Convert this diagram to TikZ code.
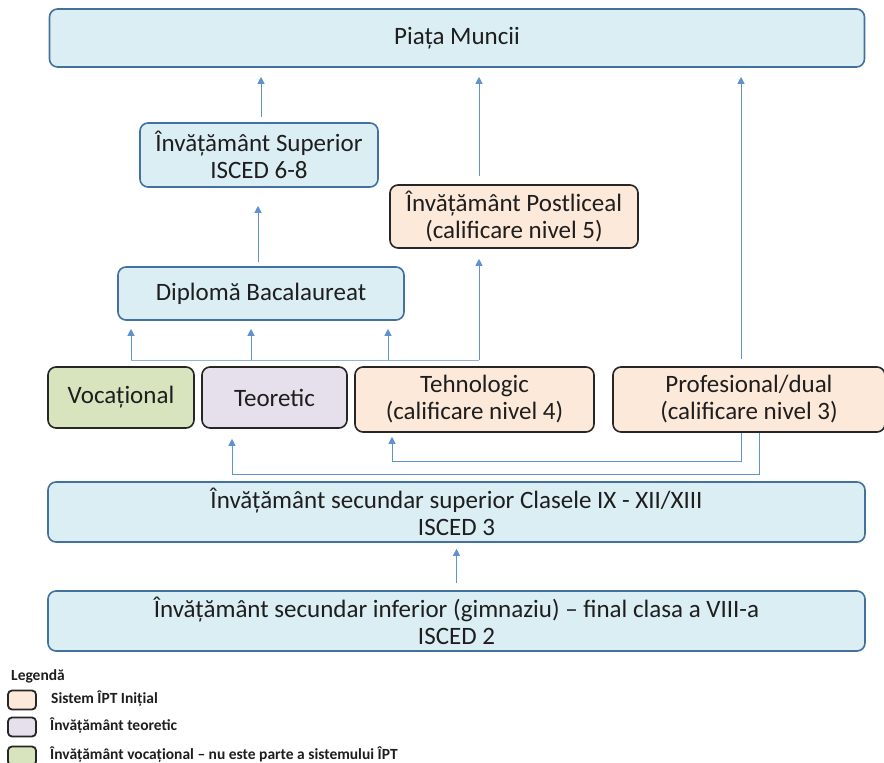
\documentclass[tikz,border=0pt]{standalone}
\usepackage{fontspec}
\setmainfont{Carlito}
\usetikzlibrary{arrows.meta}
\definecolor{boxblue}{RGB}{219,238,244}
\definecolor{lineblue}{RGB}{65,113,156}
\definecolor{boxorange}{RGB}{253,233,217}
\definecolor{boxpurple}{RGB}{229,224,236}
\definecolor{boxgreen}{RGB}{215,228,189}
\definecolor{arrowblue}{RGB}{96,146,208}
\definecolor{txt}{RGB}{30,30,30}
\begin{document}
\begin{tikzpicture}[x=1pt, y=-1pt,
	every node/.style={text=txt, font=\fontsize{25}{27}\selectfont, align=center, inner sep=0pt},
	bluebox/.style={draw=lineblue, fill=boxblue, line width=1.6pt, rounded corners=8pt},
	ipt/.style={draw=black!85, line width=1.6pt, rounded corners=8pt},
	legbox/.style={draw=black!85, line width=1.8pt, rounded corners=4pt, minimum width=28pt, minimum height=19pt},
	legtext/.style={font=\bfseries\fontsize{15.5}{17}\selectfont, anchor=west},
	arr/.style={draw=arrowblue, line width=0.9pt, -{Triangle[width=7pt,length=7pt]}},
	bus/.style={draw=arrowblue!70, line width=0.9pt}]
	\useasboundingbox (0,0) rectangle (884,763);
	% piata + nivel tertiar
	\node[bluebox, minimum width=815pt, minimum height=58pt] (PM) at (457,38) {Piața Muncii};
	\node[bluebox, minimum width=238pt, minimum height=64pt] (IS) at (259,155) {Învățământ Superior\\ISCED 6-8};
	\node[ipt, fill=boxorange, minimum width=248pt, minimum height=63pt] (PL) at (514,216.5) {Învățământ Postliceal\\(calificare nivel 5)};
	\node[bluebox, minimum width=286pt, minimum height=53pt] (DB) at (261,293.5) {Diplomă Bacalaureat};
	% filiere
	\node[ipt, fill=boxgreen, minimum width=146pt, minimum height=61pt] (VO) at (121,397.5) {Vocațional};
	\node[ipt, fill=boxpurple, minimum width=145pt, minimum height=61pt] (TE) at (274.5,397.5) {Teoretic};
	\node[ipt, fill=boxorange, minimum width=239pt, minimum height=65pt] (TH) at (474.5,399.5) {Tehnologic\\(calificare nivel 4)};
	\node[ipt, fill=boxorange, minimum width=272pt, minimum height=65pt] (PR) at (749,399.5) {Profesional/dual\\(calificare nivel 3)};
	% secundar
	\node[bluebox, minimum width=817pt, minimum height=60pt] (SS) at (456.5,512) {Învățământ secundar superior Clasele IX - XII/XIII\\ISCED 3};
	\node[bluebox, minimum width=817pt, minimum height=60pt] (SI) at (456.5,621) {Învățământ secundar inferior (gimnaziu) – final clasa a VIII-a\\ISCED 2};
	
	\coordinate (B1) at (131,360);
	\coordinate (B2) at (251,360);
	\coordinate (B3) at (388,360);
	\coordinate (B4) at (479,360);
	\coordinate (R1) at (741,461);
	\coordinate (R2) at (392,461);
	\coordinate (R3) at (759,474);
	\coordinate (R4) at (232,474);
	
	\draw[arr, shorten <=5pt, shorten >=9pt] (IS.north -| 261,0) -- (PM.south -| 261,0);
	\draw[arr, shorten <=8pt, shorten >=9pt] (PL.north -| B4) -- (PM.south -| B4);
	\draw[arr, shorten <=7pt, shorten >=9pt] (PR.north -| R1) -- (PM.south -| R1);
	\draw[arr, shorten <=4pt, shorten >=18pt] (DB.north -| 258,0) -- (IS.south -| 258,0);
	
	\draw[bus] (B1) -- (B4);
	\draw[arr, shorten >=10pt] (B4) -- (PL.south -| B4);
	\draw[arr, shorten >=8pt] (B1) -- (DB.south -| B1);
	\draw[arr, shorten >=8pt] (B2) -- (DB.south -| B2);
	\draw[arr, shorten >=8pt] (B3) -- (DB.south -| B3);
	
	\draw[arr, shorten >=4pt] (PR.south -| R1) -- (R1) -- (R2) -- (TH.south -| R2);
	\draw[arr, shorten >=10pt] (PR.south -| R3) -- (R3) -- (R4) -- (TE.south -| R4);
	\draw[arr, shorten <=7pt, shorten >=6pt] (SI.north) -- (SS.south);
	
	% legenda
	\node[legtext] (L0) at (11,676) {Legendă};
	\node[legbox, fill=boxorange] (L1) at (22,700) {};
	\node[legbox, fill=boxpurple] (L2) at (22,727) {};
	\node[legbox, fill=boxgreen] (L3) at (22,756) {};
	\node[legtext] (T1) at (51,699) {Sistem ÎPT Inițial};
	\node[legtext] (T2) at (50,726) {Învățământ teoretic};
	\node[legtext] (T3) at (50,755) {Învățământ vocațional – nu este parte a sistemului ÎPT};
\end{tikzpicture}
\end{document}
